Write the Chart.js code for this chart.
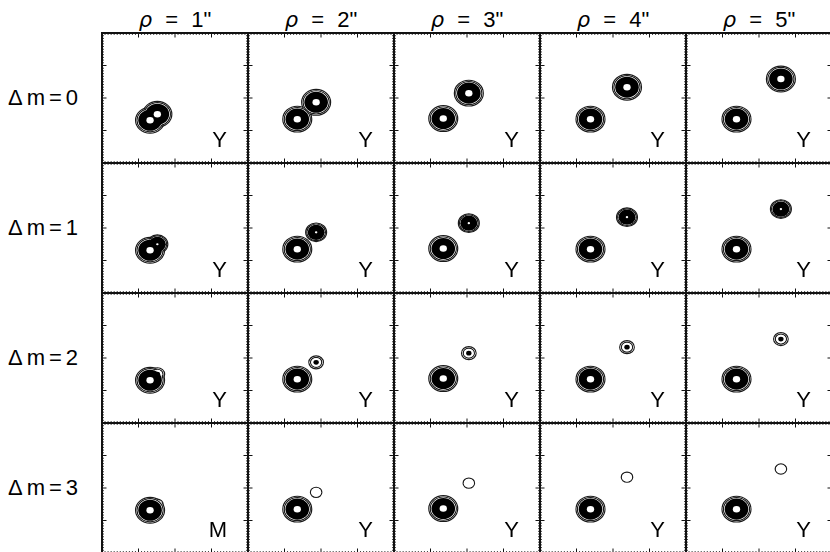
<!DOCTYPE html>
<html>
<head>
<meta charset="utf-8">
<title>Binary PSF contours</title>
<script src="https://cdn.jsdelivr.net/npm/chart.js@4.4.1/dist/chart.umd.min.js"></script>
<style>
  body { margin: 0; background: #fff; }
  #fig { position: relative; width: 830px; height: 552px; overflow: hidden;
         font-family: "Liberation Sans", Arial, sans-serif; color: #000; }
  #fig canvas { position: absolute; }
  .colhead { position: absolute; top: 7px; width: 146px; text-align: center;
             font-size: 22px; line-height: 25px; word-spacing: 7px; white-space: pre; }
  .colhead i { font-family: "DejaVu Sans", sans-serif; font-size: 21px; }
  .rowhead { position: absolute; left: 8px; font-size: 22px; line-height: 25px;
             letter-spacing: 4px; white-space: pre; }
</style>
</head>
<body>
<div id="fig"></div>
<script>
// grid: columns are separations, rows are magnitude differences
const separations = [1, 2, 3, 4, 5];      // rho, arcsec
const magDiffs = [0, 1, 2, 3];            // delta m of the companion

// star centres in panel units (0..12 on both axes), one per column
const primaryX = [3.95, 4.05, 4.05, 4.15, 4.15];
const primaryY = [3.95, 4.05, 4.10, 4.05, 4.05];
const companionX = [4.55, 5.60, 6.15, 7.15, 7.80];
const companionY = [4.50, 5.60, 6.45, 7.00, 7.75];

// filter letter in the corner of each panel
const filterLabels = [
  ["Y", "Y", "Y", "Y", "Y"],
  ["Y", "Y", "Y", "Y", "Y"],
  ["Y", "Y", "Y", "Y", "Y"],
  ["M", "Y", "Y", "Y", "Y"]
];

// contour radii (panel units) by delta m: thin outer rings, solid band, hollow core
const ringRadii = [[1.19, 1.07], [0.86, 0.77], [0.60, 0.46], [0.47, null]];
const bandRadii = [0.97, 0.70, 0.22, null];
const coreRadii = [0.30, 0.10, null, null];

const axisMin = 0, axisMax = 12;
const majorTicks = [3, 6, 9];
const minorStep = 0.25;

const PANEL_W = 146, PANEL_H = 130, LEFT = 102, TOP = 33, PAD = 2;

const fig = document.getElementById("fig");

const contourPlugin = {
  id: "contours",
  afterDatasetsDraw(chart) {
    const { ctx, chartArea: a } = chart;
    const xs = chart.scales.x, ys = chart.scales.y;
    const ux = xs.getPixelForValue(1) - xs.getPixelForValue(0);
    const uy = ys.getPixelForValue(0) - ys.getPixelForValue(1);
    const stars = chart.data.datasets[0].data;
    const ell = (s, r, shrink) => {
      ctx.beginPath();
      ctx.ellipse(xs.getPixelForValue(s.x), ys.getPixelForValue(s.y),
        Math.max(r * ux - shrink, 0.1), Math.max(r * uy - shrink, 0.1), 0, 0, Math.PI * 2);
    };
    ctx.save();
    ctx.beginPath();
    ctx.rect(a.left, a.top, a.right - a.left, a.bottom - a.top);
    ctx.clip();
    // thin rings, outermost first; white fill hides arcs inside the joint outline
    for (let k = 0; k < 2; k++) {
      ctx.strokeStyle = "#1a1a1a";
      ctx.lineWidth = 1.2;
      stars.forEach(s => { const r = ringRadii[s.dm][k]; if (r) { ell(s, r, 0); ctx.stroke(); } });
      ctx.fillStyle = "#fff";
      stars.forEach(s => { const r = ringRadii[s.dm][k]; if (r) { ell(s, r, 0.8); ctx.fill(); } });
    }
    ctx.fillStyle = "#000";
    stars.forEach(s => { const r = bandRadii[s.dm]; if (r) { ell(s, r, 0); ctx.fill(); } });
    ctx.fillStyle = "#fff";
    stars.forEach(s => { const r = coreRadii[s.dm]; if (r) { ell(s, r, 0); ctx.fill(); } });
    ctx.restore();
  }
};

const framePlugin = {
  id: "frame",
  afterDraw(chart, args, opts) {
    const { ctx, chartArea: a } = chart;
    const xs = chart.scales.x, ys = chart.scales.y;
    ctx.save();
    ctx.strokeStyle = "#111";
    ctx.lineWidth = 1;
    ctx.beginPath();
    for (let v = axisMin + minorStep; v < axisMax; v += minorStep) {
      const major = majorTicks.includes(v);
      const len = major ? 4.5 : 1.8;
      const px = xs.getPixelForValue(v), py = ys.getPixelForValue(v);
      ctx.moveTo(px, a.top); ctx.lineTo(px, a.top + len);
      ctx.moveTo(px, a.bottom); ctx.lineTo(px, a.bottom - len);
      ctx.moveTo(a.left, py); ctx.lineTo(a.left + len, py);
      ctx.moveTo(a.right, py); ctx.lineTo(a.right - len, py);
    }
    ctx.stroke();
    ctx.lineWidth = 2;
    ctx.strokeRect(a.left, a.top, a.right - a.left, a.bottom - a.top);
    ctx.fillStyle = "#000";
    ctx.font = '22px "Liberation Sans", Arial, sans-serif';
    ctx.textAlign = "right";
    ctx.textBaseline = "alphabetic";
    ctx.fillText(opts.letter, a.right - 21, a.bottom - 16);
    ctx.restore();
  }
};

separations.forEach((rho, c) => {
  const h = document.createElement("div");
  h.className = "colhead";
  h.style.left = (LEFT + c * PANEL_W) + "px";
  h.innerHTML = "<i>\u03c1</i> = " + rho + '"';
  fig.appendChild(h);
});

magDiffs.forEach((dm, r) => {
  const h = document.createElement("div");
  h.className = "rowhead";
  h.style.top = (TOP + r * PANEL_H + PANEL_H / 2 - 13) + "px";
  h.textContent = "\u0394m=" + dm;
  fig.appendChild(h);

  separations.forEach((rho, c) => {
    const cv = document.createElement("canvas");
    cv.width = PANEL_W + 2 * PAD;
    cv.height = PANEL_H + 2 * PAD;
    cv.style.left = (LEFT + c * PANEL_W - PAD) + "px";
    cv.style.top = (TOP + r * PANEL_H - PAD) + "px";
    fig.appendChild(cv);

    const stars = [
      { x: primaryX[c], y: primaryY[c], dm: 0 },
      { x: companionX[c], y: companionY[c], dm: dm }
    ];

    new Chart(cv, {
      type: "scatter",
      data: { datasets: [{ data: stars, pointRadius: 0 }] },
      options: {
        responsive: false,
        animation: false,
        events: [],
        layout: { padding: PAD },
        plugins: {
          legend: { display: false },
          tooltip: { enabled: false },
          frame: { letter: filterLabels[r][c] }
        },
        scales: {
          x: { type: "linear", min: axisMin, max: axisMax, display: false },
          y: { type: "linear", min: axisMin, max: axisMax, display: false }
        }
      },
      plugins: [contourPlugin, framePlugin]
    });
  });
});
</script>
</body>
</html>
